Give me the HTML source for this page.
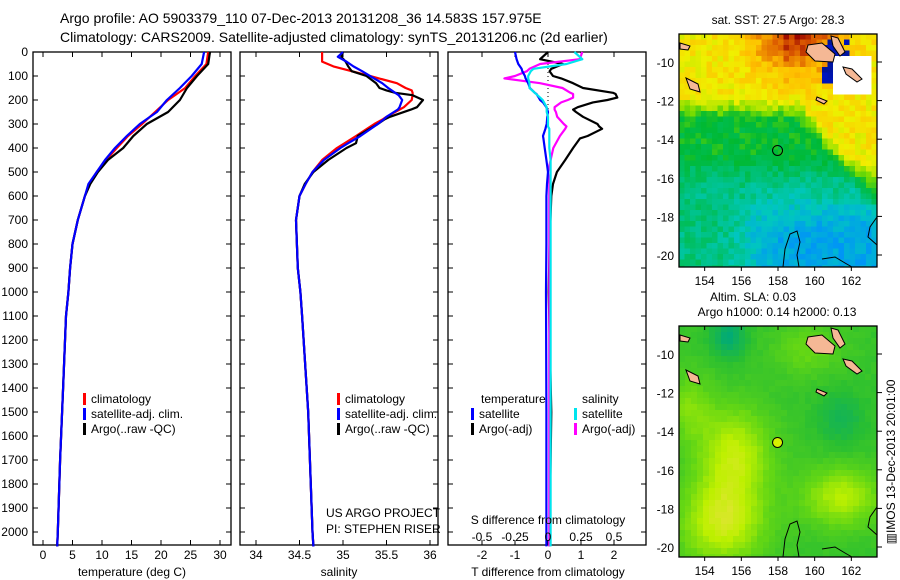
<!DOCTYPE html>
<html><head><meta charset="utf-8"><style>
html,body{margin:0;padding:0;background:#fff}
svg{display:block;font-family:"Liberation Sans",sans-serif}
text{fill:#000}
</style></head><body>
<svg id="fig" width="900" height="580" viewBox="0 0 900 580">
<text x="60" y="23" font-size="14">Argo profile: AO 5903379_110 07-Dec-2013 20131208_36 14.583S 157.975E</text>
<text x="60" y="42" font-size="14">Climatology: CARS2009. Satellite-adjusted climatology: synTS_20131206.nc (2d earlier)</text>
<g id="g"></g>
</svg>
<script>
// ---------- data ----------
const depthLevels = [0,50,100,150,200,250,300,350,400,450,500,550,600,700,800,900,1000,1100,1400,1700,2000,2060];
const tempClim = [28.0,27.7,25.8,24.1,21.2,19.0,16.8,14.4,12.5,10.7,9.1,7.9,7.1,5.9,5.0,4.6,4.3,3.9,3.4,2.9,2.5,2.4];
const tempSat  = [27.3,26.9,25.2,23.2,21.0,19.3,16.4,14.2,12.2,10.5,9.1,7.7,7.1,5.9,5.0,4.6,4.3,3.9,3.4,2.9,2.5,2.4];
const tempArgo = [28.3,28.0,26.1,24.4,23.2,21.2,17.6,15.3,13.6,11.0,9.3,8.0,7.1,5.9,5.0,4.6,4.3,3.9,3.4,2.9,2.5,2.4];
const salDepths = [0,20,40,60,80,100,130,150,160,170,180,200,230,240,270,280,300,350,380,400,450,500,550,600,700,800,900,1000,1100,1500,2000,2060];
const salClim = [34.76,34.76,34.76,34.89,35.10,35.31,35.62,35.72,35.79,35.80,35.80,35.79,35.70,35.65,35.50,35.46,35.36,35.15,35.02,34.93,34.76,34.65,34.57,34.50,34.46,34.47,34.48,34.51,34.53,34.60,34.65,34.66];
const salSat  = [35.00,34.94,35.04,35.12,35.22,35.31,35.45,35.52,35.56,35.60,35.64,35.68,35.65,35.63,35.50,35.47,35.40,35.20,35.06,34.97,34.78,34.65,34.57,34.50,34.46,34.47,34.48,34.51,34.53,34.60,34.65,34.66];
const salArgo = [35.00,34.98,35.03,35.06,35.10,35.27,35.38,35.42,35.50,35.60,35.80,35.92,35.85,35.78,35.54,35.48,35.40,35.17,35.15,35.04,34.83,34.66,34.56,34.50,34.46,34.47,34.48,34.51,34.53,34.60,34.65,34.66];
const diffDepths = [0,30,50,70,80,100,110,130,150,170,175,190,200,210,230,240,250,270,300,310,320,350,360,400,450,500,550,600,800,1000,1500,2000,2060];
const dTSat  = [-1.0,-0.95,-0.9,-0.8,-0.78,-0.7,-0.68,-0.6,-0.55,-0.4,-0.35,-0.28,-0.24,-0.15,-0.05,-0.02,0,-0.02,-0.04,-0.06,-0.08,-0.15,-0.14,-0.1,-0.05,0,-0.03,-0.05,-0.05,-0.06,-0.05,-0.05,-0.05];
const dTArgo = [0,-0.24,0.45,0.1,0.05,0.15,0.4,0.76,1.06,1.97,2.05,2.1,1.8,1.36,0.9,0.76,0.85,1.06,1.5,1.55,1.64,1.2,0.97,0.76,0.52,0.27,0.15,0.1,0.05,0.02,0.1,0.05,0.05];
const dSArgo = [0.26,0.24,-0.06,-0.14,-0.16,-0.25,-0.33,-0.06,0.11,0.17,0.19,0.19,0.15,0.1,0.05,0.05,0.06,0.07,0.12,0.14,0.13,0.09,0.08,0.04,0.02,0,0.01,0.01,0.01,0.01,0.01,0.01,0.01];
const dSSat  = [0.2,0.26,0.14,-0.11,-0.13,-0.15,-0.15,-0.14,-0.14,-0.1,-0.09,-0.06,-0.04,-0.03,-0.01,-0.01,-0.01,0,0,0,0.01,0.01,0.01,0.01,0.02,0.02,0.02,0.02,0.02,0.02,0.02,0.02,0.02];
const depthTicks = [0,100,200,300,400,500,600,700,800,900,1000,1100,1200,1300,1400,1500,1600,1700,1800,1900,2000];
const tempTicks = [0,5,10,15,20,25,30];
const salTicks = [34,34.5,35,35.5,36];
const dTTicks = [-2,-1,0,1,2];
const dSTicks = [-0.5,-0.25,0,0.25,0.5];
const dSTickLabels = ["-0.5","-0.25","0","0.25","0.5"];
const latTicks = [-10,-12,-14,-16,-18,-20];
const lonTicks = [154,156,158,160,162];
const argoLon = 157.975, argoLat = -14.583;

// ---------- helpers ----------
const NS="http://www.w3.org/2000/svg";
const G=document.getElementById('g');
function mk(tag,attrs,parent){const e=document.createElementNS(NS,tag);for(const k in attrs)e.setAttribute(k,attrs[k]);(parent||G).appendChild(e);return e;}
function txt(x,y,s,size,anchor,parent){const t=mk('text',{x:x,y:y,'font-size':size||12,'text-anchor':anchor||'start'},parent);t.textContent=s;return t;}
const yTop=52, pxPerM=0.24, plotBottom=545;
function yD(d){return yTop+d*pxPerM;}
const xT=v=>43+5.9*v;
const xS=v=>256+87*(v-34);
const xDT=v=>548+33*v;
const xDS=v=>548+132*v;

function panel(x0,x1,name){
  const r=mk('rect',{x:x0,y:yTop,width:x1-x0,height:plotBottom-yTop,fill:'#fff',stroke:'#000','stroke-width':1.3});
  
  
  depthTicks.forEach(d=>{
    mk('line',{x1:x0,y1:yD(d),x2:x0+5,y2:yD(d),stroke:'#000'});
    mk('line',{x1:x1,y1:yD(d),x2:x1-5,y2:yD(d),stroke:'#000'});
  });
}
function xticks(vals,fx,labels,name){
  vals.forEach((v,i)=>{
    const x=fx(v);
    mk('line',{x1:x,y1:yTop,x2:x,y2:yTop+5,stroke:'#000'});
    mk('line',{x1:x,y1:plotBottom,x2:x,y2:plotBottom-5,stroke:'#000'});
    const t=txt(x,559,labels?labels[i]:String(v),12,'middle');
    
    
  });
}
function line(xs,ds,fx,color,w,name){
  const pts=xs.map((v,i)=>fx(v).toFixed(1)+','+yD(ds[i]).toFixed(1)).join(' ');
  const p=mk('polyline',{points:pts,fill:'none',stroke:color,'stroke-width':w,'stroke-linejoin':'round'});
  
  
}
function legend(x,y,color,label,name){
  mk('rect',{x:x,y:y-10,width:3,height:12,fill:color});
  const t=txt(x+8,y,label,12);
  
  
}

// ---------- y axis labels ----------
depthTicks.forEach(d=>{
  const t=txt(28,yD(d)+4,String(d),12,'end');
  
  
});

// ---------- panel 1 temperature ----------
panel(33,231,'temperature-panel');
xticks(tempTicks,xT,null,'temperature-tick-label');
line(tempClim,depthLevels,xT,'#ff0000',2.2,'temperature-climatology-line');
line(tempArgo,depthLevels,xT,'#000000',2.2,'temperature-argo-line');
line(tempSat,depthLevels,xT,'#0000ff',2.2,'temperature-satellite-line');
txt(132,576,'temperature (deg C)',12,'middle');
legend(83,403,'#ff0000','climatology','legend-climatology');
legend(83,418,'#0000ff','satellite-adj. clim.','legend-satellite-adj');
legend(83,433,'#000000','Argo(..raw -QC)','legend-argo');

// ---------- panel 2 salinity ----------
panel(240,438,'salinity-panel');
xticks(salTicks,xS,null,'salinity-tick-label');
line(salClim,salDepths,xS,'#ff0000',2.2,'salinity-climatology-line');
line(salArgo,salDepths,xS,'#000000',2.2,'salinity-argo-line');
line(salSat,salDepths,xS,'#0000ff',2.2,'salinity-satellite-line');
txt(339,576,'salinity',12,'middle');
legend(337,403,'#ff0000','climatology','legend-climatology-2');
legend(337,418,'#0000ff','satellite-adj. clim.','legend-satellite-adj-2');
legend(337,433,'#000000','Argo(..raw -QC)','legend-argo-2');
txt(326,517,'US ARGO PROJECT',12);
txt(326,533,'PI: STEPHEN RISER',12);

// ---------- panel 3 differences ----------
panel(448,646,'difference-panel');
xticks(dTTicks,xDT,null,'t-diff-tick-label');
mk('line',{x1:548,y1:yTop,x2:548,y2:yD(300),stroke:'#000','stroke-dasharray':'1,3','stroke-width':1});
line(dTArgo,diffDepths,xDT,'#000000',2.2,'t-diff-argo-line');
line(dSArgo,diffDepths,xDS,'#ff00ff',2.2,'s-diff-argo-line');
line(dTSat,diffDepths,xDT,'#0000ff',2.2,'t-diff-satellite-line');
line(dSSat,diffDepths,xDS,'#00e5ee',2.2,'s-diff-satellite-line');
txt(548,576,'T difference from climatology',12,'middle');
txt(548,524,'S difference from climatology',12,'middle');
dSTicks.forEach((v,i)=>{const t=txt(xDS(v),541,dSTickLabels[i],12,'middle');
  
  });
txt(481,403,'temperature',12);
legend(471,418,'#0000ff','satellite','legend-t-satellite');
legend(471,433,'#000000','Argo(-adj)','legend-t-argo');
txt(582,403,'salinity',12);
legend(574,418,'#00e5ee','satellite','legend-s-satellite');
legend(574,433,'#ff00ff','Argo(-adj)','legend-s-argo');

// ---------- maps ----------
const MX0=679,MX1=877,LON0=152.6,LON1=163.4;
const xLon=l=>MX0+(l-LON0)*(MX1-MX0)/(LON1-LON0);
function hash(i,j){let h=(i*374761393+j*668265263)|0;h=(h^(h>>>13))*1274126177|0;return ((h^(h>>>16))>>>0)/4294967296;}
function ss(a,b,x){const t=Math.min(1,Math.max(0,(x-a)/(b-a)));return t*t*(3-2*t);}
function cmap(stops,v){v=Math.max(0,Math.min(1,v));for(let i=1;i<stops.length;i++){if(v<=stops[i][0]){const a=stops[i-1],b=stops[i],t=(v-a[0])/(b[0]-a[0]);return 'rgb('+[1,2,3].map(k=>Math.round(a[k]+(b[k]-a[k])*t)).join(',')+')';}}const l=stops[stops.length-1];return 'rgb('+l[1]+','+l[2]+','+l[3]+')';}
const sstStops=[[0,0,90,230],[0.2,0,150,245],[0.33,0,200,190],[0.45,0,190,90],[0.52,0,185,50],[0.6,120,220,0],[0.7,240,240,0],[0.8,255,190,0],[0.9,220,90,0],[1,150,0,0]];
const slaStops=[[0,0,170,120],[0.3,40,190,50],[0.55,100,215,20],[0.8,190,240,0],[1,235,225,70]];
function gauss(fx,fy,cx,cy,sx,sy){return Math.exp(-((fx-cx)**2/(2*sx*sx)+(fy-cy)**2/(2*sy*sy)));}
function sstVal(fx,fy,n){
  const yb=0.33+0.4*Math.max(0,fx-0.6)/0.4;
  let v=0.72-0.21*ss(yb-0.08,yb+0.06,fy);
  v-=0.1*ss(0.5,0.65,fy);
  v-=0.17*ss(0.6,0.88,fy)*ss(0.15,0.55,fx);
  v+=0.24*gauss(fx,fy,0.6,0.0,0.15,0.12);
  return v+(n-0.5)*0.09;
}
function slaVal(fx,fy,n){
  let v=0.36;
  v+=0.45*gauss(fx,fy,0.28,0.55,0.13,0.14);
  v+=0.5*gauss(fx,fy,0.22,0.85,0.15,0.13);
  v+=0.42*gauss(fx,fy,0.82,0.74,0.14,0.09);
  v+=0.25*gauss(fx,fy,0.05,0.35,0.08,0.1);
  v+=0.2*gauss(fx,fy,0.65,0.1,0.12,0.08);
  v-=0.35*gauss(fx,fy,0.25,0.05,0.06,0.06);
  v-=0.2*gauss(fx,fy,0.82,0.4,0.08,0.08);
  return v+(n-0.5)*0.05;
}
function drawMap(y0,y1,fn,stops,cell,name,sst,dotFill){
  const grp=mk('g',{});
  
  
  const latY=l=>y0+28+(-10-l)*19.3;
  const W=MX1-MX0,H=y1-y0;
  for(let j=0;j*cell<H;j++)for(let i=0;i*cell<W;i++){
    const fx=(i+0.5)*cell/W,fy=(j+0.5)*cell/H;
    let col=cmap(stops,fn(fx,fy,hash(i,j+(sst?0:99))));
    if(sst){
      if(fx>0.73&&fx<0.86&&fy>0.03&&fy<0.22&&hash(i+5,j)>0.35)col='rgb(0,20,'+(140+Math.round(hash(i,j+7)*60))+')';
      if(fx>0.78&&fx<0.97&&fy>0.1&&fy<0.27)col='#ffffff';
    }
    mk('rect',{x:MX0+i*cell,y:y0+j*cell,width:Math.min(cell,W-i*cell)+0.3,height:Math.min(cell,H-j*cell)+0.3,fill:col},grp);
  }
  [[[808,y0+11],[822,y0+9],[835,y0+20],[833,y0+28],[815,y0+27],[806,y0+18]],
   [[831,y0+2],[838,y0+4],[845,y0+18],[840,y0+22],[833,y0+12]],
   [[843,y0+33],[852,y0+35],[862,y0+45],[857,y0+48],[846,y0+40]],
   [[680,y0+9],[690,y0+12],[688,y0+16],[680,y0+15]],
   [[686,y0+44],[698,y0+50],[700,y0+58],[690,y0+55]],
   [[817,y0+63],[827,y0+67],[824,y0+70],[816,y0+66]]].forEach(pl=>{
    mk('polygon',{points:pl.map(p=>p.join(',')).join(' '),fill:'#f5b895',stroke:'#000','stroke-width':1},grp);
  });
  mk('polyline',{points:[[783,y1],[785,y1-18],[790,y1-33],[797,y1-36],[800,y1-25],[797,y1-12],[799,y1]].map(p=>p.join(',')).join(' '),fill:'none',stroke:'#000','stroke-width':1},grp);
  mk('polyline',{points:[[822,y1-8],[835,y1-10],[845,y1-4],[852,y1]].map(p=>p.join(',')).join(' '),fill:'none',stroke:'#000','stroke-width':1},grp);
  mk('polyline',{points:[[877,y1-50],[870,y1-40],[868,y1-30],[877,y1-22]].map(p=>p.join(',')).join(' '),fill:'none',stroke:'#000','stroke-width':1},grp);
  mk('rect',{x:MX0,y:y0,width:W,height:H,fill:'none',stroke:'#000','stroke-width':1.3});
  latTicks.forEach(l=>{
    const y=latY(l);
    mk('line',{x1:MX1,y1:y,x2:MX1+5,y2:y,stroke:'#000'});
    const t=txt(674,y+5,String(l),12,'end');
    
    
  });
  lonTicks.forEach(l=>{
    const x=xLon(l);
    mk('line',{x1:x,y1:y0,x2:x,y2:y0+4,stroke:'#000'});
    mk('line',{x1:x,y1:y1,x2:x,y2:y1+4,stroke:'#000'});
    const t=txt(x,y1+18,String(l),12,'middle');
    
    
  });
  const c=mk('circle',{cx:xLon(argoLon),cy:latY(argoLat),r:5,fill:dotFill,stroke:'#000','stroke-width':1});
  
  
}
drawMap(34,267,sstVal,sstStops,5.5,'sst-map',true,'none');
drawMap(326,557,slaVal,slaStops,6,'sla-map',false,'#d8f000');
txt(778,24,'sat. SST: 27.5 Argo: 28.3',12,'middle');
txt(753,301,'Altim. SLA: 0.03',12,'middle');
txt(777,316,'Argo h1000: 0.14 h2000: 0.13',12,'middle');
const it=txt(0,0,'\u25A5IMOS 13-Dec-2013 20:01:00',12,'middle');
it.setAttribute('transform','translate(895,462) rotate(-90)');


</script>
</body></html>
